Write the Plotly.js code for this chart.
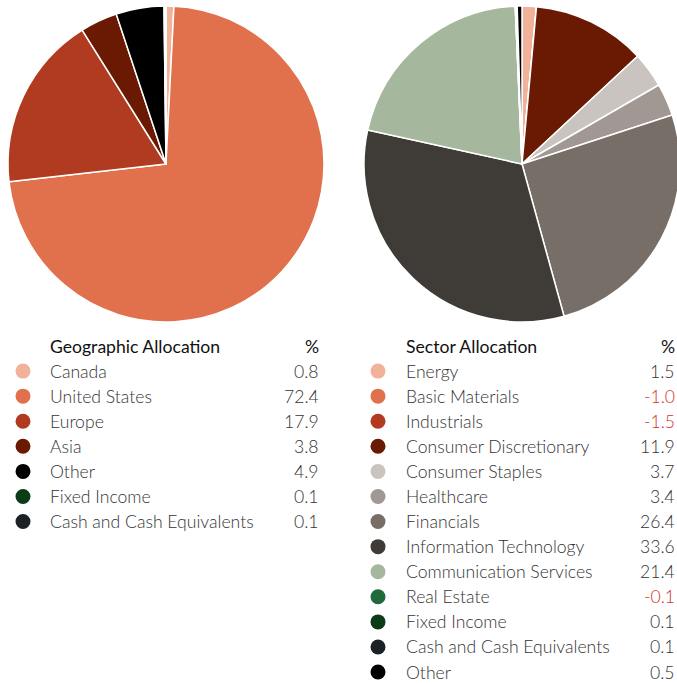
<!DOCTYPE html>
<html>
<head>
<meta charset="utf-8">
<script src="https://cdn.plot.ly/plotly-3.0.1.min.js"></script>
<style>
html,body{margin:0;padding:0;background:#fff;overflow:hidden;width:677px;height:684px;}
#chart{width:680px;height:684px;}
</style>
</head>
<body>
<div id="chart"></div>
<script>
// ---- Data ----
const geoTitle = "Geographic Allocation";
const geoLabels = ["Canada","United States","Europe","Asia","Other","Fixed Income","Cash and Cash Equivalents"];
const geoValues = [0.8,72.4,17.9,3.8,4.9,0.1,0.1];
const geoColors = ["#f1b299","#e1704c","#b13b21","#6a1a02","#000000","#0b3c17","#1b2125"];

const secTitle = "Sector Allocation";
const secLabels = ["Energy","Basic Materials","Industrials","Consumer Discretionary","Consumer Staples","Healthcare","Financials","Information Technology","Communication Services","Real Estate","Fixed Income","Cash and Cash Equivalents","Other"];
const secValues = [1.5,-1.0,-1.5,11.9,3.7,3.4,26.4,33.6,21.4,-0.1,0.1,0.1,0.5];
const secColors = ["#f1b299","#e1704c","#b13b21","#6a1a02","#c9c4c0","#a19893","#776e68","#3f3b36","#a5b89e","#1f6a3a","#0b3c17","#1b2125","#000000"];

// ---- Layout helpers ----
const W = 680, H = 684;
const px = x => x / W;
const py = y => 1 - y / H;

const traces = [
  {
    type: "pie", values: geoValues.map(v => Math.max(0, v)), labels: geoLabels,
    marker: {colors: geoColors, line: {color: "#ffffff", width: 1.5}},
    sort: false, direction: "clockwise", rotation: 0,
    textinfo: "none", hoverinfo: "label+value", showlegend: false,
    domain: {x: [px(8), px(324)], y: [py(322), py(6)]}
  },
  {
    type: "pie", values: secValues.map(v => Math.max(0, v)), labels: secLabels,
    marker: {colors: secColors, line: {color: "#ffffff", width: 1.5}},
    sort: false, direction: "clockwise", rotation: 0,
    textinfo: "none", hoverinfo: "label+value", showlegend: false,
    domain: {x: [px(364), px(680)], y: [py(322), py(6)]}
  }
];

const annotations = [];
const shapes = [];
const FS = 17.6;
function addTable(title, labels, values, colors, dotX, labelX, valueX) {
  const top = 346, step = 25.08;
  annotations.push({xref:"paper", yref:"paper", x: px(labelX), y: py(top), xanchor:"left", yanchor:"middle",
    text: title, showarrow:false, font:{family:"Lato", size:FS, color:"#111111", weight:400}});
  annotations.push({xref:"paper", yref:"paper", x: px(valueX), y: py(top), xanchor:"right", yanchor:"middle",
    text: "%", showarrow:false, font:{family:"Lato", size:FS, color:"#111111", weight:400}});
  labels.forEach((lab, i) => {
    const yy = top + step * (i + 1);
    const r = 7.5;
    shapes.push({type:"circle", xref:"paper", yref:"paper",
      x0: px(dotX - r), x1: px(dotX + r), y0: py(yy + r), y1: py(yy - r),
      fillcolor: colors[i], line:{width:0}});
    annotations.push({xref:"paper", yref:"paper", x: px(labelX), y: py(yy), xanchor:"left", yanchor:"middle",
      text: lab, showarrow:false, font:{family:"Lato", size:FS, color:"#333333", weight:300}});
    annotations.push({xref:"paper", yref:"paper", x: px(valueX), y: py(yy), xanchor:"right", yanchor:"middle",
      text: values[i].toFixed(1), showarrow:false,
      font:{family:"Lato", size:FS, color: values[i] < 0 ? "#d2332c" : "#333333", weight:300}});
  });
}
addTable(geoTitle, geoLabels, geoValues, geoColors, 23, 48, 321);
addTable(secTitle, secLabels, secValues, secColors, 378, 404, 677);

const layout = {
  width: W, height: H,
  margin: {l:0, r:0, t:0, b:0},
  paper_bgcolor: "#ffffff", plot_bgcolor: "#ffffff",
  showlegend: false,
  annotations: annotations, shapes: shapes
};
Plotly.newPlot("chart", traces, layout, {displayModeBar:false, staticPlot:true});
</script>
</body>
</html>
